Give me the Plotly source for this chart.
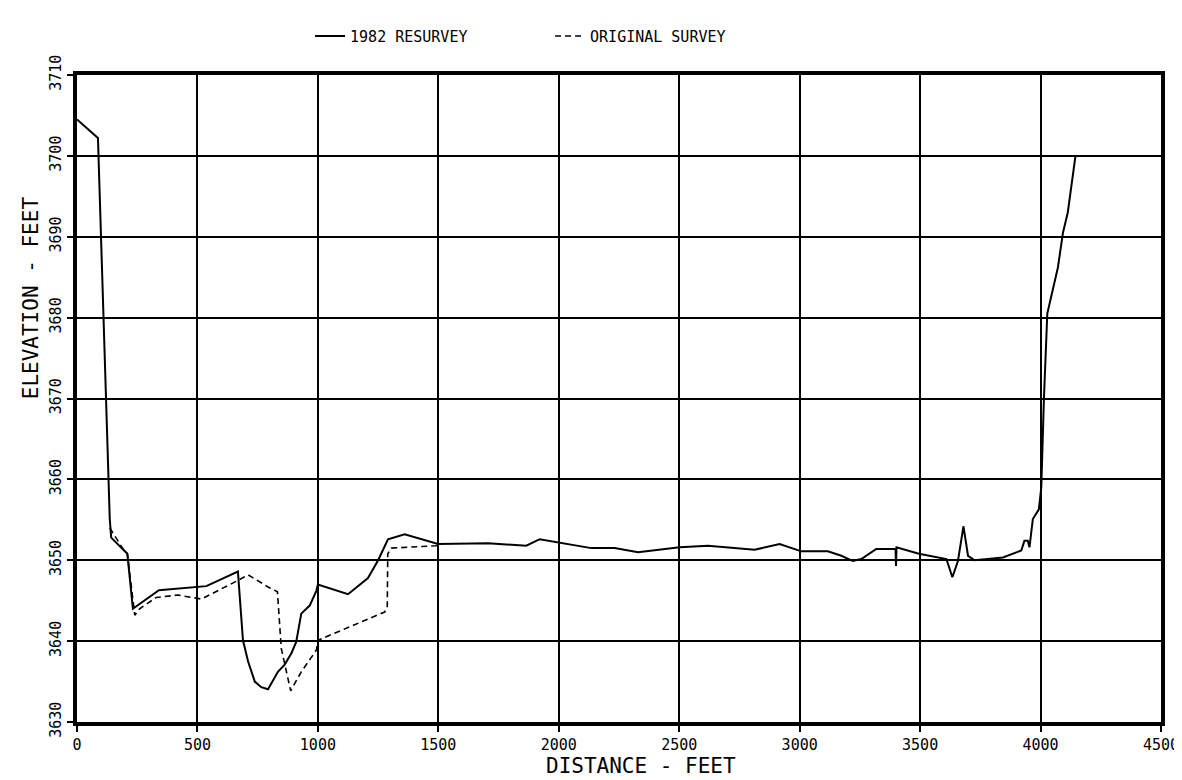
import plotly.graph_objects as go

# 1982 resurvey (solid)
res_x = [0, 87, 136, 142, 209, 232, 340, 537, 668, 689, 710, 738, 765, 793, 834, 862, 890, 910,
         931, 966, 994, 1000, 1125, 1208, 1250, 1291, 1360, 1499, 1706, 1865, 1921, 1997, 2135,
         2232, 2329, 2502, 2619, 2813, 2917, 3007, 3117, 3173, 3221, 3256, 3318, 3398, 3400,
         3402, 3495, 3609, 3634, 3657, 3680, 3699, 3726, 3844, 3920, 3933, 3947, 3954, 3968,
         3993, 4003, 4014, 4028, 4072, 4093, 4113, 4145]
res_y = [3704.5, 3702.2, 3655.1, 3652.8, 3650.8, 3644.0, 3646.3, 3646.8, 3648.6, 3640.1, 3637.5,
         3635.0, 3634.3, 3634.05, 3636.2, 3637.1, 3638.5, 3639.9, 3643.4, 3644.4, 3646.25, 3647.0,
         3645.8, 3647.8, 3650.0, 3652.6, 3653.2, 3652.0, 3652.1, 3651.8, 3652.6, 3652.2, 3651.5,
         3651.5, 3651.0, 3651.6, 3651.8, 3651.3, 3652.0, 3651.1, 3651.1, 3650.55, 3649.9, 3650.15,
         3651.4, 3651.4, 3649.3, 3651.6, 3650.8, 3650.15, 3647.9, 3649.9, 3654.2, 3650.55, 3650.0,
         3650.35, 3651.2, 3652.4, 3652.4, 3651.6, 3655.1, 3656.3, 3659.0, 3670.0, 3680.5, 3686.2,
         3690.5, 3693.0, 3700.0]

# Original survey (dashed)
orig_x = [136, 156, 191, 209, 240, 260, 329, 419, 516, 668, 710, 793, 832, 848, 887, 931, 994,
          1000, 1277, 1288, 1290, 1305, 1491, 1500]
orig_y = [3654.0, 3653.0, 3651.4, 3650.8, 3643.2, 3644.0, 3645.4, 3645.7, 3645.2, 3647.5, 3648.2,
          3646.7, 3646.1, 3639.1, 3633.85, 3636.2, 3638.9, 3640.1, 3643.6, 3644.2, 3650.8, 3651.5,
          3651.8, 3652.0]

x_ticks = [0, 500, 1000, 1500, 2000, 2500, 3000, 3500, 4000, 4500]
y_ticks = [3630, 3640, 3650, 3660, 3670, 3680, 3690, 3700, 3710]

X_TITLE = "DISTANCE - FEET"
Y_TITLE = "ELEVATION - FEET"

FONT = "DejaVu Sans Mono"

fig = go.Figure()
fig.add_trace(go.Scatter(x=res_x, y=res_y, mode="lines", name="1982 RESURVEY",
                         line=dict(color="black", width=2)))
fig.add_trace(go.Scatter(x=orig_x, y=orig_y, mode="lines", name="ORIGINAL SURVEY",
                         line=dict(color="black", width=1.6, dash="6px,4px")))

axis_common = dict(showgrid=True, gridcolor="black", gridwidth=1.5, showline=True,
                   linecolor="black", linewidth=3.5, mirror=True, ticks="outside", ticklen=6,
                   tickwidth=1.5, tickcolor="black", zeroline=False,
                   tickfont=dict(family=FONT, size=15, color="black"))

fig.update_xaxes(range=[0, 4500], tickvals=x_ticks, ticktext=[str(v) for v in x_ticks],
                 **axis_common)
fig.update_yaxes(range=[3630, 3710], tickvals=y_ticks, ticktext=[str(v) for v in y_ticks],
                 tickangle=-90, **axis_common)

fig.add_annotation(text=X_TITLE, xref="paper", yref="paper", x=0.52, y=-0.068,
                   xanchor="center", yanchor="middle", showarrow=False,
                   font=dict(family=FONT, size=21, color="black"))
fig.add_annotation(text=Y_TITLE, xref="paper", yref="paper", x=-0.0424, y=0.655,
                   xanchor="center", yanchor="middle", textangle=-90, showarrow=False,
                   font=dict(family=FONT, size=21, color="black"))

fig.update_layout(
    width=1182, height=780,
    margin=dict(l=69, r=29, t=63, b=66),
    paper_bgcolor="white", plot_bgcolor="white",
    showlegend=True,
    legend=dict(orientation="h", x=0.215, xanchor="left", y=1.06, yanchor="middle",
                font=dict(family=FONT, size=15, color="black"), entrywidth=195,
                bgcolor="rgba(0,0,0,0)"),
    font=dict(family=FONT, color="black"),
)

fig.write_html("out.html")
